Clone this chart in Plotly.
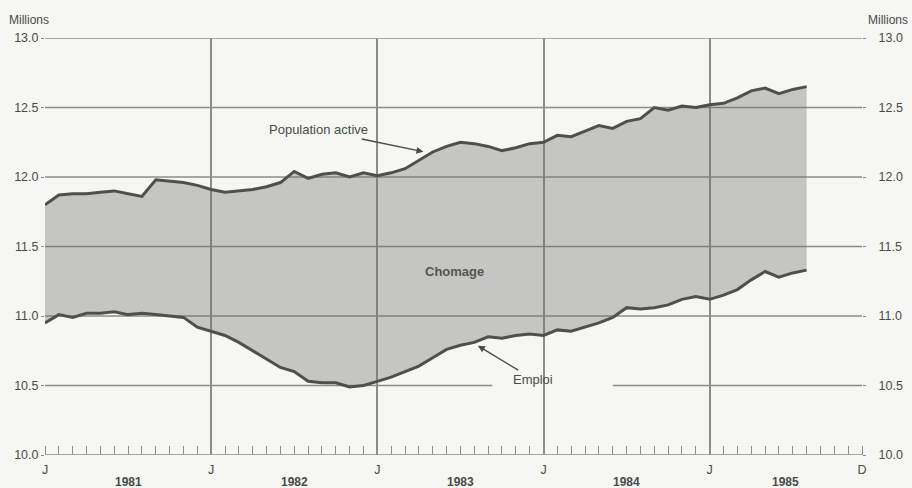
import plotly.graph_objects as go

# ---------------- data ----------------
months = list(range(56))  # Jan 1981 .. Aug 1985 (month index)
population_active = [
    11.80, 11.87, 11.88, 11.88, 11.89, 11.90, 11.88, 11.86, 11.98, 11.97,
    11.96, 11.94, 11.91, 11.89, 11.90, 11.91, 11.93, 11.96, 12.04, 11.99,
    12.02, 12.03, 12.00, 12.03, 12.01, 12.03, 12.06, 12.12, 12.18, 12.22,
    12.25, 12.24, 12.22, 12.19, 12.21, 12.24, 12.25, 12.30, 12.29, 12.33,
    12.37, 12.35, 12.40, 12.42, 12.50, 12.48, 12.51, 12.50, 12.52, 12.53,
    12.57, 12.62, 12.64, 12.60, 12.63, 12.65,
]
emploi = [
    10.95, 11.01, 10.99, 11.02, 11.02, 11.03, 11.01, 11.02, 11.01, 11.00,
    10.99, 10.92, 10.89, 10.86, 10.81, 10.75, 10.69, 10.63, 10.60, 10.53,
    10.52, 10.52, 10.49, 10.50, 10.53, 10.56, 10.60, 10.64, 10.70, 10.76,
    10.79, 10.81, 10.85, 10.84, 10.86, 10.87, 10.86, 10.90, 10.89, 10.92,
    10.95, 10.99, 11.06, 11.05, 11.06, 11.08, 11.12, 11.14, 11.12, 11.15,
    11.19, 11.26, 11.32, 11.28, 11.31, 11.33,
]
x_tick_vals = [0, 12, 24, 36, 48, 59]
x_tick_text = ["J", "J", "J", "J", "J", "D"]
year_labels = ["1981", "1982", "1983", "1984", "1985"]
year_centers = [6, 18, 30, 42, 53.5]
y_ticks = [10.0, 10.5, 11.0, 11.5, 12.0, 12.5, 13.0]

# ---------------- style ----------------
BG = "#f6f6f3"
LINE = "#4f4f4f"
GRID = "#8c8c8c"
TXT = "#4a4a4a"
FONT = "Liberation Sans, Arial, sans-serif"

fig = go.Figure()
fig.add_trace(go.Scatter(x=months, y=emploi, mode="lines", name="Emploi",
                         line=dict(color=LINE, width=3), hoverinfo="skip"))
fig.add_trace(go.Scatter(x=months, y=population_active, mode="lines",
                         name="Population active", fill="tonexty",
                         fillcolor="rgba(110,110,108,0.36)",
                         line=dict(color=LINE, width=3), hoverinfo="skip"))
# invisible trace for right axis
fig.add_trace(go.Scatter(x=[0], y=[10], yaxis="y2", mode="markers",
                         marker=dict(opacity=0), showlegend=False, hoverinfo="skip"))

# horizontal grid lines (10.5 line has a gap for the "Emploi" label)
shapes = []
for v in y_ticks:
    if v == 10.5:
        segs = [(0, 32.3), (41.0, 59)]
    else:
        segs = [(0, 59)]
    for a, b in segs:
        shapes.append(dict(type="line", xref="x", yref="y", x0=a, x1=b, y0=v, y1=v,
                           line=dict(color=GRID, width=1.5), layer="below"))

annotations = [
    dict(text="Millions", xref="paper", yref="paper", x=-0.047, y=1.043,
         xanchor="left", yanchor="middle", showarrow=False,
         font=dict(size=12, color=TXT, family=FONT)),
    dict(text="Millions", xref="paper", yref="paper", x=1.059, y=1.043,
         xanchor="right", yanchor="middle", showarrow=False,
         font=dict(size=12, color=TXT, family=FONT)),
    dict(text="<b>Chomage</b>", x=29.6, y=11.32, xref="x", yref="y",
         showarrow=False, font=dict(size=13, color="#555555", family=FONT)),
    dict(text="Population active", x=27.4, y=12.18, xref="x", yref="y",
         ax=-106, ay=-22, showarrow=True, arrowhead=2, arrowsize=1,
         arrowwidth=1.4, arrowcolor=TXT, standoff=1,
         font=dict(size=13, color=TXT, family=FONT)),
    dict(text="Emploi", x=31.2, y=10.79, xref="x", yref="y",
         ax=56, ay=34, showarrow=True, arrowhead=2, arrowsize=1,
         arrowwidth=1.4, arrowcolor=TXT, standoff=1,
         font=dict(size=13, color=TXT, family=FONT)),
]
for lab, c in zip(year_labels, year_centers):
    annotations.append(dict(text="<b>" + lab + "</b>", x=c, xref="x", yref="paper",
                            y=-0.064, yanchor="middle", showarrow=False,
                            font=dict(size=12, color=TXT, family=FONT)))

fig.update_layout(
    width=912, height=488,
    margin=dict(l=45, r=50, t=38, b=33, autoexpand=False),
    paper_bgcolor=BG, plot_bgcolor=BG,
    showlegend=False,
    shapes=shapes,
    annotations=annotations,
    xaxis=dict(range=[0, 59], tickvals=x_tick_vals, ticktext=x_tick_text,
               showgrid=True, gridcolor=GRID, gridwidth=1.5,
               zeroline=False, showline=False, ticks="", automargin=False,
               ticklabelstandoff=5,
               tickfont=dict(size=12.5, color=TXT, family=FONT),
               minor=dict(dtick=1, tick0=0, ticks="inside", ticklen=9,
                          tickcolor=GRID, tickwidth=1.2, showgrid=False),
               fixedrange=True),
    yaxis=dict(range=[10, 13], tickvals=y_ticks, tickformat=".1f",
               showgrid=False, zeroline=False, ticks="outside", ticklen=3,
               tickcolor=GRID, tickfont=dict(size=12.5, color=TXT, family=FONT),
               automargin=False, fixedrange=True),
    yaxis2=dict(range=[10, 13], tickvals=y_ticks, tickformat=".1f",
                overlaying="y", side="right", showgrid=False, zeroline=False,
                ticks="outside", ticklen=3, tickcolor=GRID,
                tickfont=dict(size=12.5, color=TXT, family=FONT),
                ticklabelstandoff=10, automargin=False, fixedrange=True),
)

fig.write_html("out.html", config={"displayModeBar": False},
               post_script="document.body.style.margin='0';document.body.style.overflow='hidden';")
